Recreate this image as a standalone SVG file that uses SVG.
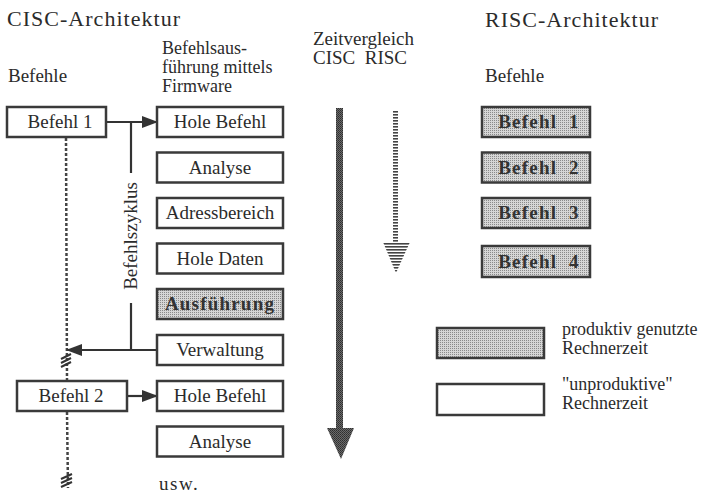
<svg xmlns="http://www.w3.org/2000/svg" width="711" height="495" viewBox="0 0 711 495">
<style>
text{font-family:"Liberation Serif","Times New Roman",serif;fill:#2b2b2b;font-size:19px}
.t{font-size:22px}
.m{font-size:18px}
.c{text-anchor:middle}
.b{font-weight:bold;letter-spacing:1.2px;fill:#333}
.box{fill:#fff;stroke:#3a3a3a;stroke-width:2.5}
.gbox{fill:url(#stip);stroke:#3a3a3a;stroke-width:2.5}
.ln{stroke:#333;stroke-width:2.2;fill:none}
.dot{stroke:#444;stroke-width:2.5;stroke-dasharray:3 2;fill:none}
.hash{stroke:#333;stroke-width:2;fill:none}
</style>
<defs>
<pattern id="stip" width="2" height="2" patternUnits="userSpaceOnUse">
<rect width="2" height="2" fill="#d6d6d6"/>
<rect width="1" height="1" fill="#8a8a8a"/>
</pattern>
<pattern id="dark" width="2" height="2" patternUnits="userSpaceOnUse">
<rect width="2" height="2" fill="#6a6a6a"/>
<rect width="1" height="1" fill="#2e2e2e"/>
<rect x="1" y="1" width="1" height="1" fill="#3a3a3a"/>
</pattern>
<pattern id="stripe" width="4" height="3" patternUnits="userSpaceOnUse">
<rect width="4" height="3" fill="#fff"/>
<rect width="4" height="1.6" fill="#444"/>
</pattern>
<marker id="ah" viewBox="0 0 16 12" refX="15" refY="6" markerWidth="16" markerHeight="12" markerUnits="userSpaceOnUse" orient="auto">
<path d="M0,0 L16,6 L0,12 Z" fill="#333"/>
</marker>
</defs>

<g id="titles">
<text class="t" x="7" y="26" textLength="173" lengthAdjust="spacing">CISC-Architektur</text>
<text class="t" x="485" y="27" textLength="173" lengthAdjust="spacing">RISC-Architektur</text>
<text x="8" y="82">Befehle</text>
<text x="485" y="82">Befehle</text>
<text class="m" x="162" y="54">Befehlsaus-</text>
<text class="m" x="162" y="73">führung mittels</text>
<text class="m" x="162" y="92">Firmware</text>
<text x="313" y="45">Zeitvergleich</text>
<text x="313" y="64" xml:space="preserve">CISC  RISC</text>
<text x="159" y="490" letter-spacing="1.5">usw.</text>
</g>

<g id="connectors">
<line class="dot" x1="66" y1="138" x2="67" y2="380"/>
<line class="dot" x1="67" y1="412" x2="68" y2="488"/>
<g class="hash">
<line x1="61" y1="359" x2="71" y2="354"/>
<line x1="61" y1="363" x2="71" y2="358"/>
<line x1="61" y1="367" x2="71" y2="362"/>
<line x1="61" y1="479" x2="72" y2="474"/>
<line x1="61" y1="483" x2="72" y2="478"/>
<line x1="61" y1="487" x2="72" y2="482"/>
</g>
<line class="ln" x1="106" y1="122" x2="157" y2="122" marker-end="url(#ah)"/>
<line class="ln" x1="131" y1="122" x2="131" y2="173"/>
<line class="ln" x1="131" y1="303" x2="131" y2="350"/>
<line class="ln" x1="157" y1="350" x2="67" y2="350" marker-end="url(#ah)"/>
<line class="ln" x1="127" y1="396" x2="157" y2="396" marker-end="url(#ah)"/>
<text x="137" y="236" class="c" transform="rotate(-90 137 236)">Befehlszyklus</text>
<rect x="336" y="108" width="7" height="322" fill="url(#dark)"/>
<path d="M327,428 L354,428 L341,459 Z" fill="url(#dark)"/>
<rect x="393" y="110" width="5" height="133" fill="url(#stripe)"/>
<path d="M383,242 L410,242 L396,273 Z" fill="url(#stripe)"/>
</g>

<g id="befehl1"><rect class="box" x="7" y="107" width="99" height="30"/><text class="c" x="60" y="128">Befehl 1</text></g>
<g id="befehl2"><rect class="box" x="17" y="381" width="110" height="30"/><text class="c" x="71" y="402">Befehl 2</text></g>

<g id="holebefehl1"><rect class="box" x="157" y="107" width="126" height="30"/><text class="c" x="220" y="128">Hole Befehl</text></g>
<g id="analyse1"><rect class="box" x="157" y="152.5" width="126" height="30"/><text class="c" x="220" y="173.5">Analyse</text></g>
<g id="adressbereich"><rect class="box" x="157" y="198" width="126" height="30"/><text class="c" x="220" y="219">Adressbereich</text></g>
<g id="holedaten"><rect class="box" x="157" y="243.5" width="126" height="30"/><text class="c" x="220" y="264.5">Hole Daten</text></g>
<g id="ausfuehrung"><rect class="gbox" x="157" y="289" width="126" height="30"/><text class="c b" x="220" y="310">Ausführung</text></g>
<g id="verwaltung"><rect class="box" x="157" y="335" width="126" height="30"/><text class="c" x="220" y="356">Verwaltung</text></g>
<g id="holebefehl2"><rect class="box" x="157" y="381" width="126" height="30"/><text class="c" x="220" y="402">Hole Befehl</text></g>
<g id="analyse2"><rect class="box" x="157" y="426.5" width="126" height="30"/><text class="c" x="220" y="447.5">Analyse</text></g>

<g id="risc1"><rect class="gbox" x="482" y="107" width="108" height="30"/><text class="c b" x="539" y="128" xml:space="preserve">Befehl  1</text></g>
<g id="risc2"><rect class="gbox" x="482" y="152.5" width="108" height="30"/><text class="c b" x="539" y="173.5" xml:space="preserve">Befehl  2</text></g>
<g id="risc3"><rect class="gbox" x="482" y="198" width="108" height="30"/><text class="c b" x="539" y="219" xml:space="preserve">Befehl  3</text></g>
<g id="risc4"><rect class="gbox" x="482" y="246" width="108" height="31"/><text class="c b" x="539" y="268" xml:space="preserve">Befehl  4</text></g>

<g id="legend-productive"><rect class="gbox" x="437" y="328" width="107" height="30"/><text class="m" x="562" y="335">produktiv genutzte</text><text class="m" x="562" y="354">Rechnerzeit</text></g>
<g id="legend-unproductive"><rect class="box" x="437" y="384" width="107" height="31"/><text class="m" x="562" y="390">"unproduktive"</text><text class="m" x="562" y="409">Rechnerzeit</text></g>
</svg>
